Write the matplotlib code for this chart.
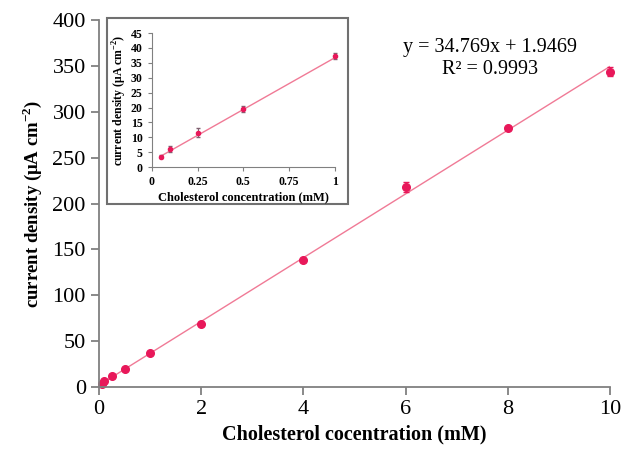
import numpy as np
import matplotlib
matplotlib.use("Agg")
import matplotlib.pyplot as plt
from matplotlib.patches import Rectangle

plt.rcParams['font.family'] = ['Liberation Serif', 'DejaVu Serif']
plt.rcParams['mathtext.fontset'] = 'custom'
plt.rcParams['mathtext.rm'] = 'Liberation Serif'
plt.rcParams['mathtext.bf'] = 'Liberation Serif:bold'

# main calibration data
conc = [0.05, 0.1, 0.25, 0.5, 1, 2, 4, 6, 8, 10]
current = [3.5, 6.0, 11.5, 19.5, 37.3, 69, 138, 218, 282, 344]
current_err = [0.5, 1.0, 1.5, 1.0, 1.0, 1.5, 2, 5, 2, 5]

# inset (low concentration range)
conc_low = [0.05, 0.1, 0.25, 0.5, 1]
current_low = [3.5, 6.0, 11.5, 19.5, 37.3]
current_low_err = [0.5, 1.0, 1.5, 1.0, 1.0]

slope = 34.769
intercept = 1.9469
r2 = 0.9993

dot = '#e8185a'
fitc = '#f07a96'
axc = '#808080'

fig = plt.figure(figsize=(6.27, 4.59), dpi=100)
ax = fig.add_axes([0.158, 0.157, 0.815, 0.799])

xf = np.array([0, 10])
ax.plot(xf, slope * xf + intercept, color=fitc, lw=1.0, zorder=1)
ax.errorbar(conc, current, yerr=current_err, fmt='o', color=dot, ms=5.5,
            elinewidth=1, capsize=2, zorder=2, clip_on=False)
ax.set_xlim(0, 10)
ax.set_ylim(0, 400)
ax.set_xticks([0, 2, 4, 6, 8, 10])
ax.set_yticks(range(0, 401, 50))
for s in ['top', 'right']:
    ax.spines[s].set_visible(False)
for s in ['left', 'bottom']:
    ax.spines[s].set_color(axc)
    ax.spines[s].set_linewidth(1.3)
ax.tick_params(colors=axc, labelcolor='black', labelsize=16, length=6, width=1.3)
ax.set_xlabel('Cholesterol cocentration (mM)', fontsize=14.5, fontweight='bold', labelpad=4)
ax.set_ylabel(r'current density ($\mathbf{\mu}$A cm$^{\mathbf{-2}}$)', fontsize=13.5,
              fontweight='bold', labelpad=6)

ax.text(0.765, 0.925, f'y = {slope}x + {intercept}', transform=ax.transAxes,
        ha='center', va='center', fontsize=14.5)
ax.text(0.765, 0.865, f'R² = {r2}', transform=ax.transAxes,
        ha='center', va='center', fontsize=14.5)

# inset frame
fig.patches.append(Rectangle((0.171, 0.556), 0.384, 0.405, transform=fig.transFigure,
                             fill=True, facecolor='white', edgecolor='#707070', lw=1.5,
                             zorder=3))

ins = fig.add_axes([0.242, 0.636, 0.292, 0.292])
ins.set_zorder(4)
xl = np.array([0.05, 1])
ins.plot(xl, slope * xl + intercept, color=fitc, lw=1.0, zorder=1)
ins.errorbar(conc_low, current_low, yerr=current_low_err, fmt='o', color=dot, ms=3,
             elinewidth=0.8, ecolor='#806070', capsize=1.5, zorder=2, clip_on=False)
ins.set_xlim(0, 1)
ins.set_ylim(0, 45)
ins.set_xticks([0, 0.25, 0.5, 0.75, 1])
ins.set_xticklabels(['0', '0.25', '0.5', '0.75', '1'])
ins.set_yticks(range(0, 46, 5))
for s in ['top', 'right']:
    ins.spines[s].set_visible(False)
for s in ['left', 'bottom']:
    ins.spines[s].set_color(axc)
ins.tick_params(colors=axc, labelcolor='black', labelsize=8.5, length=3)
for lab in ins.get_xticklabels() + ins.get_yticklabels():
    lab.set_fontweight('bold')
ins.set_xlabel('Cholesterol concentration (mM)', fontsize=9, fontweight='bold', labelpad=2)
ins.set_ylabel(r'current density ($\mathbf{\mu}$A cm$^{\mathbf{-2}}$)', fontsize=8.5,
               fontweight='bold', labelpad=1)

fig.savefig('out.png', dpi=100)
